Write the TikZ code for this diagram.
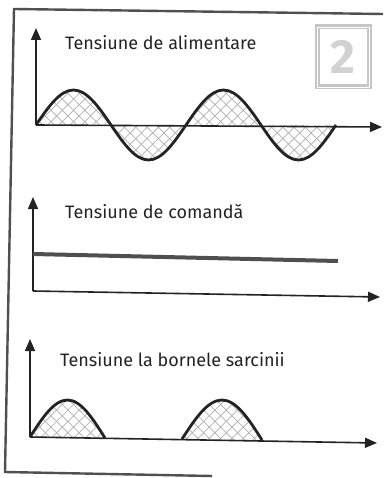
\documentclass[tikz,border=0pt]{standalone}
\usepackage{fontspec}
\setmainfont{Fira Sans}
\usepackage{xcolor}
\usetikzlibrary{positioning,arrows.meta,patterns.meta,calc}
\definecolor{inkgray}{RGB}{35,35,35}
\definecolor{hatchgray}{RGB}{175,175,175}
\definecolor{framegray}{RGB}{80,80,80}

\begin{document}
\begin{tikzpicture}[x=1pt,y=-1pt,
  axis/.style={line width=1.6pt, draw=inkgray, -{Triangle[length=12pt,width=10pt]}},
  wave/.style={line width=2.8pt, draw=inkgray, line join=round},
  hatch/.style={pattern={Lines[angle=45,distance=8pt,line width=0.7pt]}, pattern color=hatchgray},
  hatchb/.style={pattern={Lines[angle=-45,distance=8pt,line width=0.7pt]}, pattern color=hatchgray},
  label/.style={anchor=base west, font=\fontsize{18}{20}\selectfont, text=inkgray, inner sep=0pt}]
  \useasboundingbox (0,0) rectangle (383,478);

  % frame
  \draw[line width=2.4pt, draw=framegray] (383,14) -- (14,9) -- (5,472) -- (212,476);

  % number box
  \node[draw=gray!45, line width=2.2pt, double=white, double distance=0.6pt, minimum width=52pt, minimum height=60pt, inner sep=0pt] (numbox) at (343,57) {};
  \node[font=\fontsize{48}{48}\selectfont\bfseries, text=gray!35] (num) at (numbox.center) {2};

  % supply voltage
  \coordinate (o1) at (36,125);
  \coordinate (y1) at (36,28);
  \coordinate (x1) at (382,127);
  \fill[hatch] (o1) sin (73.5,90) cos (111,125) sin (148.5,160) cos (186,125) sin (223.5,90) cos (261,125) sin (298.5,160) cos (336,125) -- cycle;
  \fill[hatchb] (o1) sin (73.5,90) cos (111,125) sin (148.5,160) cos (186,125) sin (223.5,90) cos (261,125) sin (298.5,160) cos (336,125) -- cycle;
  \draw[axis] (o1) -- (y1);
  \draw[axis] (o1) -- (x1);
  \draw[wave] (o1) sin (73.5,90) cos (111,125) sin (148.5,160) cos (186,125) sin (223.5,90) cos (261,125) sin (298.5,160) cos (336,125);
  \node[label] (lab1) at (65,50) {Tensiune de alimentare};

  % control voltage
  \coordinate (o2) at (33,291);
  \coordinate (y2) at (33,197);
  \coordinate (x2) at (380,297);
  \coordinate (c2) at (338,261);
  \draw[axis] (o2) -- (y2);
  \draw[axis] (o2) -- (x2);
  \draw[line width=4pt, draw=inkgray!80] (33,254) -- (c2);
  \node[label] (lab2) at (65,218) {Tensiune de comandă};

  % load voltage
  \coordinate (o3) at (30,437);
  \coordinate (y3) at (30,339);
  \coordinate (x3) at (377,443);
  \fill[hatch] (o3) sin (67.5,400) cos (105,438) -- cycle;
  \fill[hatchb] (o3) sin (67.5,400) cos (105,438) -- cycle;
  \fill[hatch] (182,439) sin (222,400) cos (262,440) -- cycle;
  \fill[hatchb] (182,439) sin (222,400) cos (262,440) -- cycle;
  \draw[axis] (o3) -- (y3);
  \draw[axis] (o3) -- (x3);
  \draw[wave] (o3) sin (67.5,400) cos (105,438);
  \draw[wave] (182,439) sin (222,400) cos (262,440);
  \node[label] (lab3) at (60,366) {Tensiune la bornele sarcinii};
\end{tikzpicture}
\end{document}
